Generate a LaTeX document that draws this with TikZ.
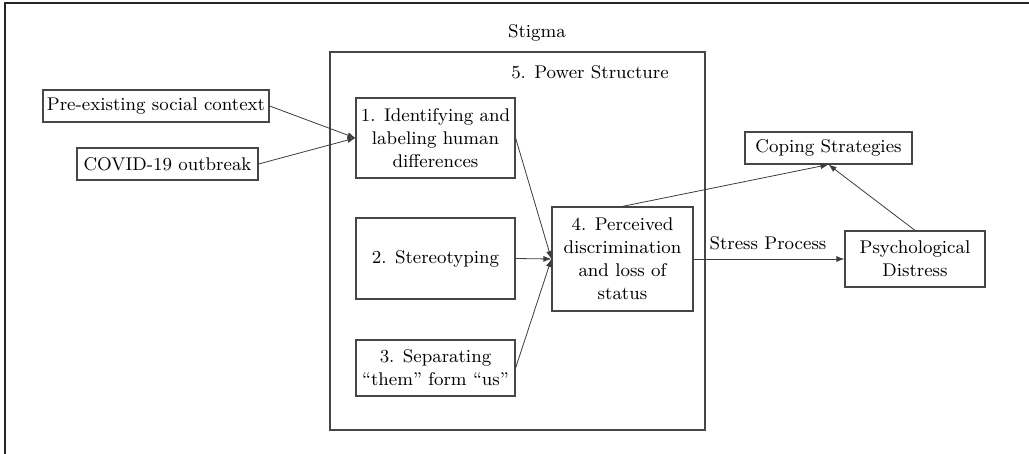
\documentclass[tikz,border=0pt]{standalone}
\usepackage{fontspec}
\usepackage{tikz}
\usetikzlibrary{arrows.meta,positioning}
\definecolor{stgline}{RGB}{70,70,70}
\definecolor{stgarrow}{RGB}{60,60,60}
\tikzset{
  stgbox/.style={rectangle,draw=stgline,line width=0.6pt,fill=white,
                 inner sep=0pt,align=center,text=black},
  stgarr/.style={-{Latex[length=4pt,width=3pt]},line width=0.4pt,color=stgarrow},
}

\begin{document}
\begin{tikzpicture}[x=0.5pt,y=-0.5pt,
        every node/.style={font=\rmfamily\fontsize{9.2}{11.5}\selectfont},
        label/.style={inner sep=0pt, text=black}
      ]
        \useasboundingbox (0,0) rectangle (1029,454);

        % outer frame (only top and left edges visible)
        \draw[line width=1pt, black!85] (5,454) -- (5,3) -- (1029,3);

        % Stigma frame
        \node[stgbox, minimum width=187.5pt, minimum height=189pt, fill=none] (stigma) at (517.5,241) {};
        \node[label] (stigmalbl) at (537,33) {Stigma};
        \node[label] (power) at (590,72) {5. Power Structure};

        % inputs
        \node[stgbox, minimum width=113pt, minimum height=16pt] (pre) at (156,106) {Pre-existing social context};
        \node[stgbox, minimum width=90.5pt, minimum height=16pt] (covid) at (167.5,164) {COVID-19 outbreak};

        % stigma components
        \node[stgbox, minimum width=79.5pt, minimum height=40pt] (ident) at (435.5,138)
          {1. Identifying and\\labeling human\\differences};
        \node[stgbox, minimum width=79.5pt, minimum height=40.5pt] (stereo) at (435.5,258.5)
          {2. Stereotyping};
        \node[stgbox, minimum width=79.5pt, minimum height=28pt] (sep) at (435.5,368)
          {3. Separating\\``them'' form ``us''};
        \node[stgbox, minimum width=70.5pt, minimum height=52pt] (disc) at (622.5,259)
          {4. Perceived\\discrimination\\and loss of\\status};

        % outcomes
        \node[stgbox, minimum width=83.5pt, minimum height=16pt] (coping) at (828.5,148) {Coping Strategies};
        \node[stgbox, minimum width=70pt, minimum height=28pt] (psych) at (915,259)
          {Psychological\\Distress};

        % arrows
        \draw[stgarr] (pre.east) -- (ident.west);
        \draw[stgarr] (covid.east) -- (ident.west);
        \draw[stgarr] (ident.east) -- (disc.west);
        \draw[stgarr] (stereo.east) -- (disc.west);
        \draw[stgarr] (sep.east) -- (disc.west);
        \draw[stgarr] (disc.north) -- (coping.south);
        \draw[stgarr] (psych.north) -- (coping.south);
        \draw[stgarr] (disc.east) -- (psych.west);
        \node[label] (stress) at (768,243) {Stress Process};

      \end{tikzpicture}
\end{document}
